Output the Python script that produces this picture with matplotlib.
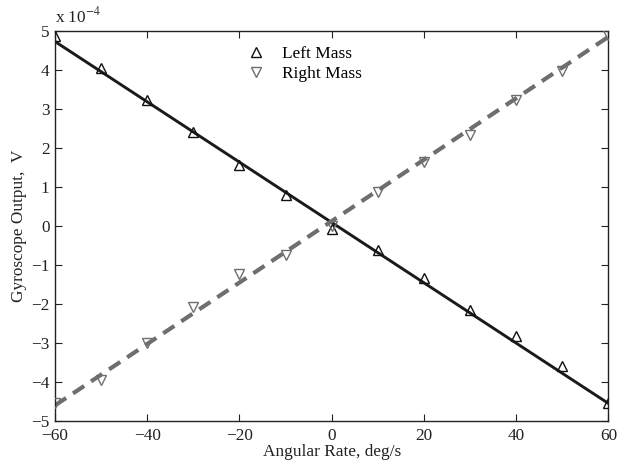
import matplotlib
matplotlib.use("Agg")
import matplotlib.pyplot as plt
import numpy as np

plt.rcParams['font.family'] = ['Liberation Serif', 'DejaVu Serif']
plt.rcParams['mathtext.fontset'] = 'stix'

rate = [-60, -50, -40, -30, -20, -10, 0, 10, 20, 30, 40, 50, 60]
left_mass = [4.87, 4.05, 3.23, 2.41, 1.56, 0.80, -0.08, -0.62, -1.33, -2.15, -2.82, -3.58, -4.55]
right_mass = [-4.55, -3.95, -3.00, -2.07, -1.24, -0.74, 0.0, 0.86, 1.63, 2.33, 3.23, 3.98, 4.90]
fit_x = [-60, 60]
left_fit = [4.73, -4.55]
right_fit = [-4.60, 4.85]
scale = 1e-4
fs = 12.4

fig = plt.figure(figsize=(6.18, 4.66), dpi=100)
ax = fig.add_axes([0.089, 0.0966, 0.8955, 0.8369])

ax.plot(fit_x, [v * scale for v in left_fit], color='#1a1a1a', lw=2.1, zorder=2)
ax.plot(fit_x, [v * scale for v in right_fit], color='#6e6e6e', lw=3.0,
        dashes=(3.2, 2.0), zorder=2)
ax.plot(rate, [v * scale for v in left_mass], ls='none', marker='^', ms=6.8,
        mfc='none', mec='#111111', mew=1.0, label='Left Mass', zorder=3)
ax.plot(rate, [v * scale for v in right_mass], ls='none', marker='v', ms=6.8,
        mfc='none', mec='#6e6e6e', mew=1.0, label='Right Mass', zorder=3)

ax.set_xlim(-60, 60)
ax.set_ylim(-5e-4, 5e-4)
ax.set_xticks(np.arange(-60, 61, 20))
ax.set_yticks(np.arange(-5, 6, 1) * scale)
ax.set_yticklabels(['\u2212%d' % -v if v < 0 else '%d' % v for v in range(-5, 6)])
ax.set_xticklabels(['\u2212%d' % -v if v < 0 else '%d' % v for v in range(-60, 61, 20)])
ax.tick_params(direction='in', top=True, right=True, length=5, width=0.8,
               labelsize=fs, colors='#222222')
ax.tick_params(axis='x', pad=5)
ax.tick_params(axis='y', pad=4)
for s in ax.spines.values():
    s.set_linewidth(1.0)
    s.set_color('#222222')

ax.text(0.0, 1.012, 'x 10$^{-4}$', transform=ax.transAxes, fontsize=fs,
        ha='left', va='bottom', color='#222222')
ax.set_xlabel('Angular Rate, deg/s', fontsize=fs, labelpad=0, color='#222222')
ax.set_ylabel('Gyroscope Output,  V', fontsize=fs, labelpad=3, color='#222222')

ax.legend(loc='upper center', bbox_to_anchor=(0.45, 1.0), frameon=False,
          fontsize=fs, handlelength=1.2, handletextpad=0.9, labelspacing=0.25,
          borderaxespad=0.45)

fig.savefig('out.png', dpi=100)
